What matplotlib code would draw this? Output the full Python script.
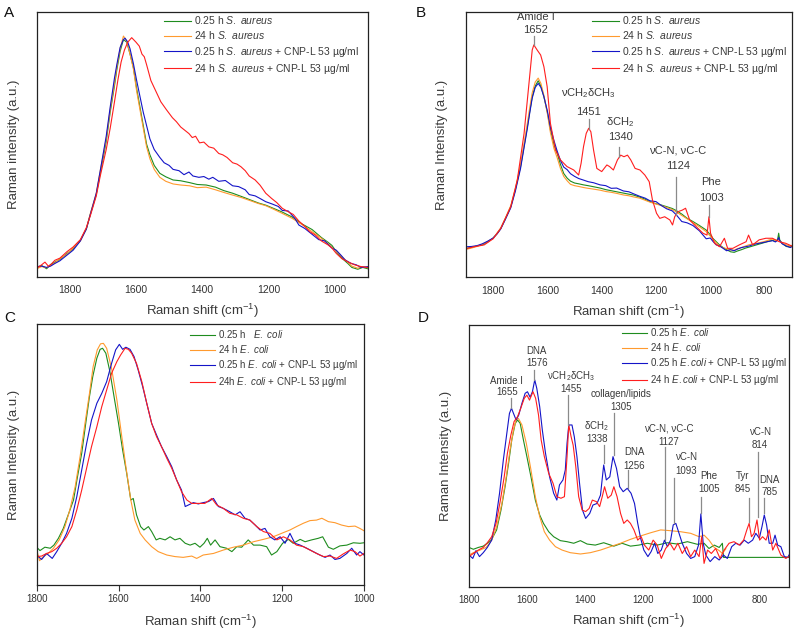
import matplotlib
matplotlib.use("Agg")
import matplotlib.pyplot as plt

plt.rcParams['font.family'] = ['Liberation Sans', 'DejaVu Sans']
plt.rcParams['mathtext.fontset'] = 'custom'
plt.rcParams['mathtext.rm'] = 'Liberation Sans'
plt.rcParams['mathtext.it'] = 'Liberation Sans:italic'
plt.rcParams['mathtext.bf'] = 'Liberation Sans:bold'

GREEN = '#1e8c1e'
ORANGE = '#ff9a2e'
BLUE = '#1414c8'
RED = '#ff1e1e'
TXT = '#3a3a3a'
GREY = '#8a8a8a'

# ---------------- panel A : S. aureus, 1900-900 cm-1 ----------------
a_gx = [1900, 1885, 1870, 1858, 1845, 1830, 1808, 1790, 1768, 1750, 1738, 1720, 1708, 1690, 1678, 1665,
        1658, 1648, 1638, 1628, 1618, 1608, 1598, 1588, 1578, 1568, 1558, 1545, 1528, 1510, 1488, 1465,
        1438, 1415, 1388, 1360, 1335, 1308, 1280, 1255, 1230, 1208, 1185, 1160, 1128, 1100, 1068, 1040,
        1020, 1008, 995, 978, 960, 948, 930, 915, 900]
a_green = [3.5, 4.2, 3.0, 4.6, 5.5, 6.5, 8.8, 10.5, 13.8, 18.0, 23.5, 31.0, 39.0, 51.0, 62.0, 72.0,
           78.0, 85.0, 89.5, 88.5, 84.0, 79.0, 71.0, 64.0, 57.0, 50.0, 46.0, 42.0, 39.0, 37.7, 36.5, 36.2,
           35.5, 34.8, 34.6, 33.8, 32.5, 31.5, 30.2, 29.0, 27.8, 27.0, 25.8, 24.5, 22.5, 20.0, 17.8, 14.8,
           13.0, 11.8, 9.5, 7.0, 5.0, 3.5, 2.8, 3.5, 3.0]
a_orange = [3.0, 3.8, 3.4, 4.2, 5.2, 6.8, 8.5, 10.8, 13.5, 18.3, 23.8, 31.5, 40.0, 52.0, 63.0, 73.0,
            79.0, 86.0, 90.8, 89.0, 84.0, 78.5, 70.0, 63.0, 56.0, 49.0, 44.5, 40.5, 37.5, 36.0, 35.0, 34.6,
            34.3, 33.6, 33.8, 32.8, 31.8, 30.8, 29.8, 28.7, 27.6, 26.8, 25.5, 24.0, 22.0, 19.8, 17.0, 14.5,
            12.5, 11.0, 9.8, 7.5, 5.5, 4.0, 3.2, 3.8, 3.4]
a_bx = [1900, 1885, 1870, 1858, 1845, 1830, 1808, 1790, 1768, 1750, 1738, 1720, 1708, 1690, 1678, 1665,
        1658, 1648, 1638, 1633, 1625, 1618, 1608, 1598, 1588, 1578, 1568, 1558, 1545, 1528, 1515, 1500,
        1488, 1470, 1455, 1440, 1428, 1410, 1395, 1380, 1368, 1350, 1330, 1308, 1290, 1270, 1258, 1240,
        1225, 1208, 1190, 1170, 1158, 1140, 1120, 1108, 1090, 1068, 1048, 1030, 1008, 995, 980, 968,
        950, 935, 920, 900]
a_blue = [3.8, 4.0, 3.5, 4.0, 5.0, 6.0, 8.2, 10.0, 13.5, 18.0, 23.5, 31.5, 40.0, 53.0, 64.0, 75.0,
          80.0, 86.5, 89.5, 90.0, 88.5, 86.0, 80.5, 74.0, 68.0, 62.0, 57.0, 52.0, 48.0, 45.0, 43.0, 42.0,
          40.5, 40.0, 38.5, 39.5, 38.0, 37.5, 37.8, 36.8, 37.5, 36.0, 36.3, 34.3, 34.0, 32.8, 31.0, 30.5,
          29.5, 28.3, 27.5, 26.5, 25.0, 24.8, 22.0, 19.5, 18.2, 16.0, 14.0, 13.5, 10.8, 10.0, 8.0, 6.3,
          5.0, 4.5, 3.5, 3.8]
a_rx = [1900, 1885, 1875, 1865, 1858, 1845, 1830, 1808, 1790, 1768, 1750, 1738, 1720, 1708, 1690, 1678,
        1665, 1655, 1645, 1635, 1625, 1613, 1600, 1590, 1582, 1575, 1568, 1555, 1540, 1525, 1508, 1490,
        1478, 1465, 1450, 1440, 1430, 1420, 1408, 1395, 1380, 1365, 1350, 1338, 1325, 1308, 1295, 1283,
        1270, 1258, 1240, 1225, 1208, 1190, 1175, 1158, 1140, 1125, 1108, 1090, 1075, 1058, 1040, 1020,
        1008, 995, 978, 958, 940, 920, 900]
a_red = [3.2, 4.5, 5.5, 4.0, 4.5, 6.2, 7.0, 9.5, 11.2, 14.0, 18.5, 23.0, 30.5, 38.0, 48.0, 56.0,
         66.0, 74.0, 81.0, 85.5, 88.5, 90.2, 88.5, 87.0, 84.0, 83.0, 80.0, 74.0, 70.0, 66.0, 63.0, 60.0,
         58.5, 56.5, 55.0, 54.0, 52.5, 53.0, 50.5, 50.8, 49.0, 48.5, 46.5, 46.0, 45.0, 43.0, 42.5, 41.5,
         40.0, 38.0, 36.5, 34.5, 31.5, 29.5, 28.0, 25.8, 24.5, 23.5, 21.0, 19.0, 17.0, 15.7, 13.5, 12.0,
         10.8, 8.8, 6.8, 5.5, 4.5, 3.8, 3.5]

# ---------------- panel B : S. aureus, 1900-700 cm-1 ----------------
b_x = [1900, 1880, 1860, 1840, 1820, 1800, 1785, 1772, 1755, 1735, 1718, 1699, 1685, 1674, 1665, 1656,
       1645, 1634, 1624, 1613, 1600, 1589, 1576, 1564, 1552, 1540, 1527, 1515, 1500, 1485, 1467, 1450,
       1430, 1406, 1385, 1365, 1345, 1320, 1300, 1284, 1260, 1240, 1222, 1200, 1180, 1161, 1140, 1125,
       1105, 1085, 1064, 1040, 1015, 1000, 990, 978, 966, 954, 940, 925, 912, 900, 885, 870, 856, 840,
       820, 800, 785, 770, 760, 752, 748, 744, 735, 720, 705, 700]
b_green = [10.8, 11.3, 11.8, 12.2, 13.3, 14.8, 16.5, 18.4, 22.0, 26.6, 33.0, 41.7, 50.0, 56.7, 62.5, 68.0,
           72.0, 74.0, 72.0, 68.0, 62.0, 55.5, 50.0, 46.7, 42.5, 39.1, 37.3, 36.2, 35.5, 35.2, 34.8, 34.5,
           34.1, 33.6, 33.0, 32.6, 32.2, 31.7, 31.3, 31.0, 30.2, 29.4, 28.5, 27.7, 27.2, 26.6, 25.9, 25.1,
           23.8, 22.2, 21.0, 19.5, 17.8, 16.0, 14.6, 13.4, 12.2, 11.3, 10.4, 9.6, 9.4, 9.9, 10.4, 11.0, 11.4, 11.9,
           12.5, 13.1, 13.6, 13.9, 13.5, 14.2, 16.6, 14.0, 12.8, 11.6, 11.4, 11.8]
b_orange = [10.5, 11.0, 11.6, 12.4, 13.5, 14.6, 16.8, 18.6, 22.3, 27.0, 33.5, 42.5, 51.0, 58.0, 64.0, 69.5,
            73.5, 75.0, 73.0, 68.5, 61.5, 54.5, 48.5, 45.0, 41.0, 38.0, 36.3, 35.0, 34.5, 34.2, 33.8, 33.5,
            33.2, 32.8, 32.3, 32.0, 31.6, 31.0, 30.7, 30.3, 29.8, 29.0, 28.3, 27.6, 27.0, 26.3, 25.5, 24.6,
            23.3, 22.0, 20.6, 19.0, 17.2, 15.5, 14.2, 13.0, 11.8, 11.2, 10.8, 10.3, 10.2, 10.8, 11.2, 11.8, 12.3, 12.6,
            13.0, 13.5, 14.0, 14.4, 14.0, 13.8, 14.5, 13.5, 12.9, 12.2, 11.8, 12.0]
b_blue = [11.5, 11.6, 11.9, 12.6, 13.6, 14.8, 16.4, 18.2, 21.8, 26.2, 32.5, 41.0, 49.5, 56.0, 62.0, 67.5,
          71.5, 73.0, 71.5, 68.0, 62.5, 56.5, 51.5, 47.5, 44.0, 41.5, 40.5, 39.0, 38.0, 37.2, 36.6, 36.0,
          35.6, 34.8, 34.5, 33.5, 33.6, 32.5, 32.2, 31.5, 30.5, 29.8, 28.8, 28.5, 27.0, 25.8, 25.0, 23.5,
          21.0, 20.5, 19.5, 17.5, 14.5, 14.8, 13.5, 12.2, 11.8, 11.0, 10.0, 10.4, 10.0, 10.6, 11.2, 11.5, 11.8, 12.4,
          12.8, 13.2, 13.5, 13.8, 13.3, 14.0, 15.0, 13.8, 12.6, 11.8, 11.2, 11.5]
b_rx = [1900, 1870, 1833, 1800, 1772, 1735, 1711, 1686, 1668, 1656, 1650, 1638, 1625, 1613, 1601, 1589,
        1570, 1552, 1528, 1503, 1485, 1476, 1467, 1457, 1448, 1440, 1430, 1418, 1400, 1381, 1371, 1357,
        1342, 1330, 1318, 1305, 1293, 1277, 1259, 1241, 1225, 1213, 1198, 1186, 1168, 1149, 1139, 1131,
        1119, 1103, 1091, 1076, 1052, 1027, 1012, 1005, 999, 984, 966, 948, 936, 917, 893, 868, 859, 844,
        820, 795, 771, 746, 722, 700]
b_red = [10.8, 11.5, 12.2, 14.5, 18.4, 26.6, 36.6, 54.2, 73.0, 85.6, 87.5, 85.6, 83.7, 79.3, 71.8, 58.0,
         47.9, 44.2, 41.7, 40.4, 38.5, 42.9, 49.2, 54.2, 56.1, 54.8, 47.9, 41.0, 39.8, 42.3, 41.7, 40.4,
         44.2, 46.0, 45.4, 46.0, 44.2, 41.0, 40.4, 38.5, 36.0, 29.1, 24.1, 22.2, 22.8, 21.6, 19.7, 22.8,
         24.7, 25.3, 26.0, 21.6, 19.1, 16.6, 15.9, 22.8, 16.6, 12.8, 11.5, 14.7, 10.9, 10.9, 12.2, 13.4, 15.9, 12.2,
         14.1, 14.7, 14.7, 13.4, 12.8, 11.8]

# ---------------- panel C : E. coli, 1800-1000 cm-1 ----------------
c_gx = [1800, 1792, 1780, 1767, 1758, 1747, 1735, 1723, 1710, 1701, 1690, 1679, 1671, 1663, 1653, 1645,
        1639, 1631, 1621, 1611, 1600, 1590, 1580, 1570, 1564, 1556, 1546, 1538, 1527, 1519, 1508, 1499,
        1486, 1474, 1462, 1450, 1437, 1425, 1413, 1401, 1391, 1383, 1375, 1364, 1352, 1336, 1323, 1311,
        1299, 1283, 1270, 1254, 1238, 1226, 1213, 1199, 1185, 1173, 1156, 1144, 1128, 1112, 1101, 1087,
        1075, 1059, 1042, 1026, 1010, 1000]
c_green = [14.5, 13.2, 14.5, 14.1, 15.3, 17.9, 21.7, 26.9, 32.6, 40.9, 50.5, 63.3, 72.3, 79.9, 87.0, 90.4,
           90.8, 88.9, 81.8, 72.3, 62.0, 51.8, 42.8, 32.6, 33.2, 26.9, 22.4, 21.1, 22.4, 20.5, 17.3, 17.9,
           17.3, 18.5, 17.3, 17.9, 16.0, 15.3, 16.0, 14.5, 16.0, 17.9, 15.3, 17.3, 14.7, 14.1, 12.8, 14.7,
           14.5, 17.3, 15.3, 15.3, 14.7, 11.5, 12.8, 16.0, 17.5, 16.0, 17.5, 16.6, 17.3, 17.9, 18.5, 14.5,
           13.7, 15.0, 15.3, 16.2, 16.0, 16.2]
c_ox = [1800, 1793, 1784, 1772, 1759, 1745, 1731, 1719, 1706, 1694, 1682, 1671, 1662, 1652, 1644, 1637,
        1629, 1617, 1604, 1592, 1582, 1570, 1560, 1547, 1535, 1519, 1503, 1482, 1462, 1442, 1421, 1409,
        1393, 1368, 1344, 1319, 1295, 1270, 1246, 1222, 1197, 1181, 1165, 1148, 1132, 1116, 1103, 1087,
        1071, 1055, 1038, 1022, 1010, 1000]
c_orange = [13.4, 9.3, 10.9, 12.1, 14.1, 17.3, 22.4, 28.8, 37.7, 49.2, 62.0, 73.5, 83.8, 90.2, 92.5, 92.7,
            90.8, 83.1, 71.0, 56.9, 45.4, 32.6, 24.9, 19.8, 17.3, 14.7, 12.8, 11.5, 10.9, 10.6, 11.1, 10.2,
            11.5, 12.1, 13.4, 14.5, 15.3, 16.6, 17.5, 18.5, 20.1, 21.1, 22.4, 23.7, 24.7, 24.9, 25.6, 24.3,
            23.9, 23.0, 22.4, 22.6, 21.7, 20.8]
c_bx = [1800, 1788, 1776, 1762, 1751, 1739, 1727, 1714, 1702, 1690, 1678, 1666, 1653, 1641, 1629, 1617,
        1607, 1598, 1590, 1582, 1572, 1562, 1552, 1541, 1531, 1519, 1507, 1495, 1482, 1470, 1458, 1446,
        1437, 1429, 1417, 1405, 1393, 1380, 1368, 1356, 1344, 1328, 1315, 1303, 1291, 1279, 1266, 1254,
        1242, 1230, 1218, 1205, 1193, 1181, 1169, 1156, 1140, 1124, 1108, 1095, 1083, 1071, 1059, 1042,
        1030, 1018, 1010, 1000]
c_blue = [11.5, 9.8, 12.1, 10.2, 12.8, 16.0, 19.8, 25.6, 33.9, 44.1, 54.3, 63.3, 69.7, 73.5, 78.0, 85.0,
          90.2, 92.3, 90.4, 91.2, 90.4, 87.6, 82.5, 76.1, 69.7, 62.0, 57.5, 53.1, 49.2, 45.4, 40.3, 36.4,
          30.1, 30.7, 31.6, 31.1, 31.6, 32.0, 33.2, 30.1, 29.4, 28.1, 26.9, 28.1, 25.6, 24.9, 23.0, 21.1,
          21.7, 18.5, 17.3, 18.5, 16.0, 19.8, 16.0, 15.3, 14.1, 12.8, 11.5, 10.6, 11.5, 9.8, 10.2, 12.1,
          14.1, 11.5, 12.8, 11.5]
c_rx = [1800, 1788, 1776, 1763, 1751, 1739, 1727, 1714, 1702, 1690, 1678, 1666, 1653, 1641, 1629, 1617,
        1604, 1595, 1584, 1576, 1568, 1556, 1543, 1531, 1519, 1507, 1495, 1482, 1470, 1458, 1446, 1433,
        1421, 1405, 1389, 1372, 1360, 1344, 1328, 1311, 1295, 1279, 1262, 1246, 1230, 1213, 1197, 1181,
        1165, 1148, 1132, 1116, 1099, 1083, 1067, 1051, 1034, 1022, 1010, 1000]
c_red = [10.9, 11.1, 12.1, 12.8, 14.1, 16.0, 18.5, 22.4, 28.8, 36.4, 44.8, 53.1, 60.7, 68.4, 74.8, 81.2,
         85.7, 88.2, 90.8, 90.4, 88.9, 85.0, 78.0, 69.7, 62.0, 56.9, 53.1, 48.6, 44.8, 40.3, 35.8, 32.6,
         31.3, 31.3, 31.3, 33.2, 30.7, 29.4, 27.5, 26.9, 25.6, 24.9, 22.4, 20.5, 19.8, 17.3, 18.5, 17.3,
         15.3, 14.7, 13.4, 12.1, 10.9, 11.1, 10.2, 11.9, 13.4, 12.8, 11.1, 12.1]

# ---------------- panel D : E. coli, 1800-700 cm-1 ----------------
d_gx = [1800, 1785, 1768, 1751, 1737, 1722, 1705, 1690, 1676, 1664, 1653, 1641, 1633, 1624, 1613, 1601,
        1587, 1572, 1557, 1544, 1526, 1509, 1486, 1463, 1440, 1417, 1394, 1366, 1337, 1302, 1274, 1245,
        1216, 1187, 1153, 1118, 1084, 1049, 1015, 992, 975, 957, 940, 929, 925, 700]
d_green = [15.0, 14.3, 15.0, 15.5, 16.6, 18.1, 21.7, 29.3, 38.2, 47.1, 56.1, 62.4, 63.7, 62.4, 56.1, 49.7,
           42.0, 33.1, 27.4, 24.2, 21.0, 19.1, 17.6, 17.2, 16.6, 17.6, 16.3, 15.9, 16.8, 15.5, 16.6, 15.5,
           15.9, 16.6, 15.9, 16.8, 16.3, 17.2, 16.2, 16.6, 14.6, 15.9, 15.0, 16.6, 11.2, 11.2]
d_ox = [1800, 1785, 1762, 1741, 1722, 1705, 1687, 1672, 1659, 1647, 1638, 1630, 1618, 1603, 1587, 1572,
        1557, 1541, 1523, 1503, 1480, 1452, 1417, 1383, 1348, 1314, 1279, 1245, 1210, 1176, 1141, 1107,
        1072, 1038, 1009, 992, 975, 957, 940, 929, 917]
d_orange = [12.1, 13.0, 14.0, 15.0, 17.8, 22.9, 31.8, 42.0, 52.2, 59.9, 63.7, 64.3, 61.8, 54.8, 44.6, 34.4,
            26.8, 21.0, 17.8, 15.3, 14.0, 13.0, 12.5, 13.0, 14.0, 15.3, 16.6, 18.1, 19.4, 20.6, 21.7, 21.4,
            21.0, 20.4, 19.1, 19.7, 17.8, 15.0, 13.8, 12.7, 14.5]
d_bx = [1800, 1787, 1776, 1764, 1751, 1737, 1722, 1708, 1695, 1682, 1670, 1661, 1654, 1647, 1638, 1629,
        1618, 1607, 1599, 1590, 1582, 1574, 1567, 1557, 1548, 1537, 1523, 1509, 1498, 1489, 1477, 1469,
        1463, 1457, 1446, 1438, 1429, 1420, 1410, 1399, 1385, 1374, 1360, 1348, 1337, 1328, 1316, 1305,
        1293, 1282, 1270, 1256, 1243, 1231, 1220, 1210, 1199, 1185, 1174, 1162, 1151, 1139, 1128, 1118,
        1107, 1098, 1089, 1078, 1067, 1052, 1038, 1024, 1011, 1003, 995, 986, 971, 955, 940, 925,
        912, 897, 883, 868, 854, 840, 825, 814, 802, 793, 785, 777, 768, 756, 748, 739, 728, 716, 704, 700]
d_blue = [12.1, 10.8, 13.8, 11.5, 13.0, 15.0, 17.8, 25.5, 35.7, 48.4, 58.6, 66.2, 68.2, 66.2, 63.7, 65.6,
          70.1, 73.9, 74.5, 72.4, 74.5, 79.0, 75.8, 68.8, 59.9, 51.0, 42.0, 35.7, 33.1, 38.9, 40.8, 44.6,
          54.8, 61.8, 61.8, 57.3, 49.7, 39.5, 29.3, 26.1, 28.0, 31.2, 31.8, 35.0, 46.5, 40.8, 42.0, 49.7,
          45.2, 38.2, 36.3, 37.6, 35.7, 31.8, 24.2, 18.5, 14.0, 11.5, 13.4, 16.6, 12.7, 14.0, 17.8, 15.3,
          17.8, 23.6, 24.2, 20.4, 16.6, 12.7, 10.8, 11.5, 15.9, 27.8, 16.6, 12.1, 9.6, 11.5, 10.2, 12.1,
          10.8, 15.3, 16.6, 15.9, 17.8, 16.6, 17.8, 20.4, 18.5, 22.9, 27.4, 23.6, 16.6, 16.6, 19.7, 15.9,
          15.3, 11.5, 11.2, 12.1]
d_rx = [1800, 1785, 1768, 1751, 1737, 1722, 1707, 1693, 1679, 1668, 1656, 1645, 1633, 1622, 1610, 1601,
        1592, 1580, 1571, 1561, 1552, 1541, 1526, 1511, 1498, 1484, 1472, 1463, 1457, 1449, 1442, 1433,
        1423, 1411, 1399, 1387, 1376, 1362, 1351, 1342, 1334, 1323, 1311, 1302, 1291, 1279, 1268, 1256,
        1245, 1233, 1220, 1208, 1197, 1182, 1167, 1153, 1139, 1124, 1109, 1095, 1082, 1067, 1052, 1038,
        1024, 1009, 1000, 992, 980, 967, 952, 937, 923, 906, 889, 871, 856, 845, 837, 829,
        820, 810, 801, 791, 779, 768, 756, 745, 728, 711, 700]
d_red = [11.5, 12.7, 14.0, 15.0, 16.8, 19.1, 24.2, 32.5, 42.0, 51.0, 58.0, 63.1, 65.0, 68.2, 72.0, 73.2,
         71.3, 74.5, 72.0, 65.6, 56.1, 49.7, 43.3, 39.5, 34.4, 33.8, 34.4, 49.7, 61.8, 57.3, 54.1, 45.9,
         34.4, 29.3, 28.7, 29.9, 33.1, 32.5, 30.6, 34.4, 38.2, 33.8, 35.0, 38.2, 34.4, 28.0, 24.2, 25.5,
         24.2, 21.7, 17.8, 19.1, 15.9, 14.0, 17.8, 15.9, 10.8, 14.6, 16.6, 14.0, 16.6, 12.7, 15.3, 11.5,
         14.0, 11.5, 19.1, 8.9, 14.0, 12.7, 14.6, 10.8, 14.0, 16.6, 17.2, 15.9, 17.8, 21.7, 24.2, 19.1,
         20.4, 25.5, 17.8, 19.1, 17.8, 21.7, 14.0, 16.6, 12.1, 10.8, 11.5]

sa_labels = ['0.25 h $\\mathit{S.\\ aureus}$', '24 h $\\mathit{S.\\ aureus}$',
             '0.25 h $\\mathit{S.\\ aureus}$ + CNP-L 53 \u00b5g/ml',
             '24 h $\\mathit{S.\\ aureus}$ + CNP-L 53 \u00b5g/ml']
ec_labels_c = ['0.25 h   $\\mathit{E.\\ coli}$', '24 h $\\mathit{E.\\ coli}$',
               '0.25 h $\\mathit{E.\\ coli}$ + CNP-L 53 \u00b5g/ml',
               '24h $\\mathit{E.\\ coli}$ + CNP-L 53 \u00b5g/ml']
ec_labels_d = ['0.25 h $\\mathit{E.\\ coli}$', '24 h $\\mathit{E.\\ coli}$',
               '0.25 h $\\mathit{E.coli}$ + CNP-L 53 \u00b5g/ml',
               '24 h $\\mathit{E.coli}$ + CNP-L 53 \u00b5g/ml']

# band assignments: (name, wavenumber label)
b_bands = [('Amide I', '1652'), ('\u03bdCH$_2$\u03b4CH$_3$', '1451'), ('\u03b4CH$_2$', '1340'),
           ('\u03bdC-N, \u03bdC-C', '1124'), ('Phe', '1003')]
d_bands = [('DNA', '1576'), ('Amide I', '1655'), ('\u03bdCH$_2$\u03b4CH$_3$', '1455'),
           ('collagen/lipids', '1305'), ('\u03b4CH$_2$', '1338'), ('DNA', '1256'),
           ('\u03bdC-N, \u03bdC-C', '1127'), ('\u03bdC-N', '1093'), ('Phe', '1005'),
           ('Tyr', '845'), ('\u03bdC-N', '814'), ('DNA', '785')]

W, H = 800, 629
fig = plt.figure(figsize=(W / 100, H / 100), dpi=100)


def make_axes(left, top, right, bottom, xlim, xticks, ylab, ylab_x, xlab_y, tick_out=False, tick_fs=7.5):
    ax = fig.add_axes([left / W, 1 - bottom / H, (right - left) / W, (bottom - top) / H])
    ax.set_xlim(*xlim)
    ax.set_ylim(0, 100)
    ax.set_yticks([])
    ax.set_xticks(xticks)
    if tick_out:
        ax.tick_params(axis='x', direction='out', length=4, width=0.8, pad=2.5,
                       labelsize=tick_fs, colors='#333333')
    else:
        ax.tick_params(axis='x', length=0, pad=6, labelsize=tick_fs, colors='#333333')
    for s in ax.spines.values():
        s.set_linewidth(0.9)
        s.set_color('#222222')
    ax.set_ylabel(ylab, fontsize=9.5, color=TXT)
    ax.yaxis.set_label_coords(ylab_x, 0.5)
    ax.set_xlabel('Raman shift (cm$^{-1}$)', fontsize=9.5, color=TXT, va='top')
    ax.xaxis.set_label_coords(0.5, xlab_y)
    return ax


def curves(ax, series, labels, bx, by, fs):
    hs = []
    for (x, y, c) in series:
        h, = ax.plot(x, y, color=c, lw=0.8)
        hs.append(h)
    ax.legend(hs, labels, loc='upper left', bbox_to_anchor=(bx, by), frameon=False,
              fontsize=fs, handlelength=2.6, handletextpad=0.3, labelspacing=0.3,
              borderpad=0, borderaxespad=0, labelcolor=TXT)


def band(ax, name, num, tx, ty_name, ty_num, lx, y0, y1, fs=7.5):
    ax.text(tx, ty_name, name, ha='center', va='center', fontsize=fs, color=TXT)
    ax.text(tx, ty_num, num, ha='center', va='center', fontsize=fs, color=TXT)
    ax.plot([lx, lx], [y0, y1], color=GREY, lw=0.9)


# A
axA = make_axes(36.7, 11.7, 367.7, 276.7, (1900, 900), [1800, 1600, 1400, 1200, 1000],
                'Raman intensity (a.u.)', -0.05, -0.095)
curves(axA, [(a_gx, a_green, GREEN), (a_gx, a_orange, ORANGE), (a_bx, a_blue, BLUE), (a_rx, a_red, RED)],
       sa_labels, 0.385, 0.99, 7.5)

# B
axB = make_axes(466, 11.7, 791.7, 277.3, (1900, 700), [1800, 1600, 1400, 1200, 1000, 800],
                'Raman Intensity (a.u.)', -0.055, -0.095)
curves(axB, [(b_x, b_green, GREEN), (b_x, b_orange, ORANGE), (b_x, b_blue, BLUE), (b_rx, b_red, RED)],
       sa_labels, 0.386, 0.99, 7.5)
b_pos = [(1644, 97.9, 93.1, 1650, 90.8, 87.5), (1448, 69.5, 62.4, 1448, 59.5, 55.7),
         (1332, 58.3, 52.7, 1337, 49.2, 45.4), (1119, 47.7, 42.0, 1127, 37.9, 23.5),
         (997, 36.0, 29.7, 1003, 27.2, 22.8)]
for (nm, num), (tx, t1, t2, lx, y0, y1) in zip(b_bands, b_pos):
    band(axB, nm, num, tx, t1, t2, lx, y0, y1, fs=8)

# C
axC = make_axes(36.7, 324.3, 364, 585, (1800, 1000), [1800, 1600, 1400, 1200, 1000],
                'Raman Intensity (a.u.)', -0.05, -0.105, tick_out=True, tick_fs=7)
curves(axC, [(c_gx, c_green, GREEN), (c_ox, c_orange, ORANGE), (c_bx, c_blue, BLUE), (c_rx, c_red, RED)],
       ec_labels_c, 0.468, 0.985, 7)

# D
axD = make_axes(469, 325, 789, 586.7, (1800, 700), [1800, 1600, 1400, 1200, 1000, 800],
                'Raman Intensity (a.u.)', -0.053, -0.097, tick_fs=7)
curves(axD, [(d_gx, d_green, GREEN), (d_ox, d_orange, ORANGE), (d_bx, d_blue, BLUE), (d_rx, d_red, RED)],
       ec_labels_d, 0.477, 0.995, 7)
d_pos = [(1567, 90.2, 85.4, 1575, 82.8, 79.0), (1670, 78.7, 74.3, 1655, 72.0, 68.2),
         (1448, 80.6, 75.6, 1460, 73.2, 61.8), (1277, 73.6, 68.5, 1302, 66.2, 50.3),
         (1360, 61.3, 56.4, 1337, 54.1, 47.1), (1233, 51.3, 46.2, 1254, 44.6, 37.6),
         (1113, 60.5, 55.2, 1126, 53.5, 17.8), (1055, 49.7, 44.2, 1095, 41.4, 24.2),
         (975, 42.3, 37.3, 1001, 34.4, 28.0), (860, 42.3, 37.3, 837, 33.8, 24.8),
         (800, 59.2, 54.1, 808, 51.6, 26.8), (766, 40.8, 36.1, 785, 33.8, 28.0)]
for (nm, num), (tx, t1, t2, lx, y0, y1) in zip(d_bands, d_pos):
    band(axD, nm, num, tx, t1, t2, lx, y0, y1, fs=7)

# panel letters
for lab, px, py in [('A', 9.3, 13.3), ('B', 420.7, 13.3), ('C', 9.3, 318.3), ('D', 423, 318.3)]:
    fig.text(px / W, 1 - py / H, lab, fontsize=11, ha='center', va='center', color='#111111')

fig.savefig('out.png', dpi=100)
